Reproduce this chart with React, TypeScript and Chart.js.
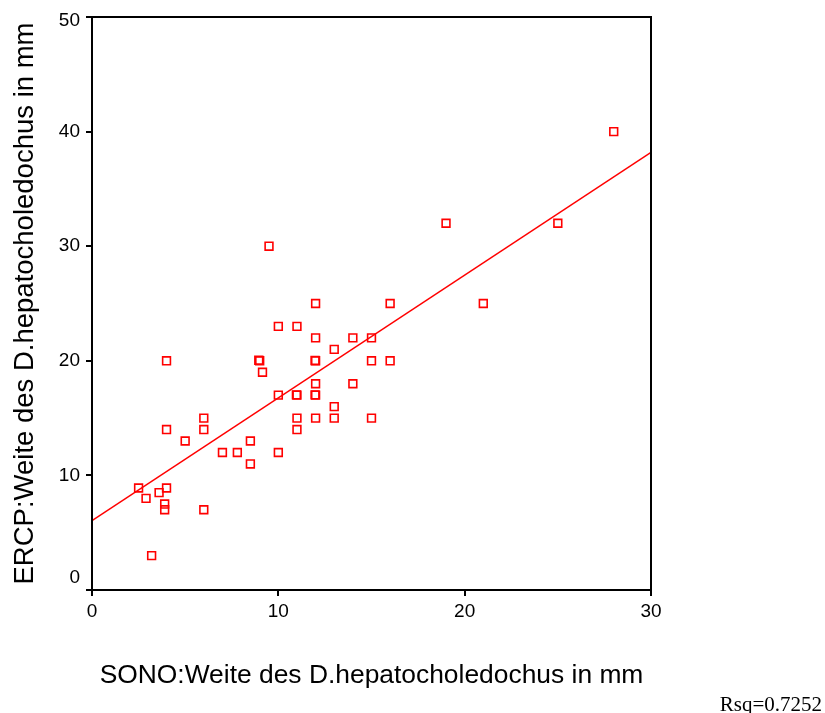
import React, { useEffect, useRef } from "react";
import { Chart, registerables } from "chart.js";

Chart.register(...registerables);

// SONO (x) and ERCP (y) diameters in mm
const SONO: number[] = [
  4, 9.5, 12, 16, 21, 10, 11, 12, 14, 15, 13, 8.95, 9, 11.97, 12, 15, 16, 9.15, 12, 14,
  10, 10.97, 11, 11.97, 12, 13, 6, 11, 12, 13, 15, 4, 6, 11, 5, 8.5, 7, 7.8, 10, 8.5,
  2.5, 4, 2.9, 3.6, 3.9, 3.9, 6, 3.2, 19, 25, 28,
];
const ERCP: number[] = [
  20, 30, 25, 25, 25, 23, 23, 22, 22, 22, 21, 20.05, 20, 20.03, 20, 20, 20, 19, 18, 18,
  17, 17.03, 17, 17.03, 17, 16, 15, 15, 15, 15, 15, 14, 14, 14, 13, 13, 12, 12, 12, 11,
  8.9, 8.9, 8, 8.5, 7.5, 7, 7, 3, 32, 32, 40,
];

// Linear fit
const FIT_INTERCEPT = 6.06;
const FIT_SLOPE = 1.071;
const FIT_X_RANGE: number[] = [0, 30];

const X_TICKS: number[] = [0, 10, 20, 30];
const Y_TICKS: number[] = [0, 10, 20, 30, 40, 50];

const X_TITLE = "SONO:Weite des D.hepatocholedochus in mm";
const Y_TITLE = "ERCP:Weite des D.hepatocholedochus in mm";
const RSQ_TEXT = "Rsq=0.7252";

const SANS = "'Liberation Sans', Arial, sans-serif";
const SERIF = "'Liberation Serif', 'Times New Roman', serif";

export default function App() {
  const ref = useRef<HTMLCanvasElement | null>(null);

  useEffect(() => {
    const canvas = ref.current;
    if (!canvas) return;

    const points = SONO.map((x, i) => ({ x, y: ERCP[i] }));
    const fit = FIT_X_RANGE.map((x) => ({ x, y: FIT_INTERCEPT + FIT_SLOPE * x }));

    const framePlugin = {
      id: "frame",
      afterDraw(chart: any) {
        const { ctx, chartArea } = chart;
        ctx.save();
        ctx.strokeStyle = "#000";
        ctx.lineWidth = 2;
        ctx.strokeRect(
          chartArea.left,
          chartArea.top,
          chartArea.right - chartArea.left,
          chartArea.bottom - chartArea.top
        );
        ctx.font = `21px ${SERIF}`;
        ctx.fillStyle = "#000";
        ctx.textAlign = "right";
        ctx.textBaseline = "alphabetic";
        ctx.fillText(RSQ_TEXT, 822, 711);
        ctx.restore();
      },
    };

    const chart = new Chart(canvas, {
      type: "scatter",
      data: {
        datasets: [
          {
            label: "fit",
            data: fit,
            showLine: true,
            borderColor: "#ff0000",
            borderWidth: 1.5,
            pointRadius: 0,
            fill: false,
          },
          {
            label: "points",
            data: points,
            pointStyle: "rect",
            pointRadius: 5.5,
            pointBorderWidth: 1.6,
            pointBorderColor: "#ff0000",
            pointBackgroundColor: "rgba(255,255,255,0)",
            showLine: false,
          },
        ],
      },
      options: {
        responsive: false,
        animation: false,
        events: [],
        layout: { padding: { left: 0, right: 174, top: 17, bottom: 0 } },
        plugins: {
          legend: { display: false },
          tooltip: { enabled: false },
          title: { display: false },
        },
        scales: {
          x: {
            type: "linear",
            min: 0,
            max: 30,
            afterFit: (s: any) => {
              s.height = 123;
            },
            afterBuildTicks: (s: any) => {
              s.ticks = X_TICKS.map((v) => ({ value: v }));
            },
            grid: {
              display: true,
              drawOnChartArea: false,
              drawTicks: true,
              tickLength: 6,
              color: "#000",
              lineWidth: 2,
            },
            border: { display: false },
            ticks: {
              color: "#000",
              font: { family: SANS, size: 19 },
              padding: 4,
              maxRotation: 0,
            },
            title: {
              display: true,
              text: X_TITLE,
              color: "#000",
              font: { family: SANS, size: 26.4 },
              padding: { top: 0, bottom: 21 },
            },
          },
          y: {
            type: "linear",
            min: 0,
            max: 50,
            afterFit: (s: any) => {
              s.width = 92;
            },
            afterBuildTicks: (s: any) => {
              s.ticks = Y_TICKS.map((v) => ({ value: v }));
            },
            grid: {
              display: true,
              drawOnChartArea: false,
              drawTicks: true,
              tickLength: 6,
              color: "#000",
              lineWidth: 2,
            },
            border: { display: false },
            ticks: {
              color: "#000",
              padding: 6,
              font: (c: any) => {
                const v = c && c.tick ? c.tick.value : null;
                let lh: any = 1.2;
                if (v === 0) lh = "24px";
                else if (v === 50) lh = "8px";
                return { family: SANS, size: 19, lineHeight: lh };
              },
              callback: (v: any) => {
                if (v === 0) return ["0", ""];
                if (v === 50) return ["", "50"];
                return String(v);
              },
            },
            title: {
              display: true,
              text: Y_TITLE,
              color: "#000",
              font: { family: SANS, size: 27.5 },
              padding: { top: 9, bottom: 0 },
            },
          },
        },
      } as any,
      plugins: [framePlugin],
    });

    return () => chart.destroy();
  }, []);

  return (
    <div
      style={{
        position: "fixed",
        left: 0,
        top: 0,
        width: 825,
        height: 713,
        background: "#fff",
      }}
    >
      <canvas ref={ref} width={825} height={713} style={{ width: 825, height: 713, display: "block" }} />
    </div>
  );
}
